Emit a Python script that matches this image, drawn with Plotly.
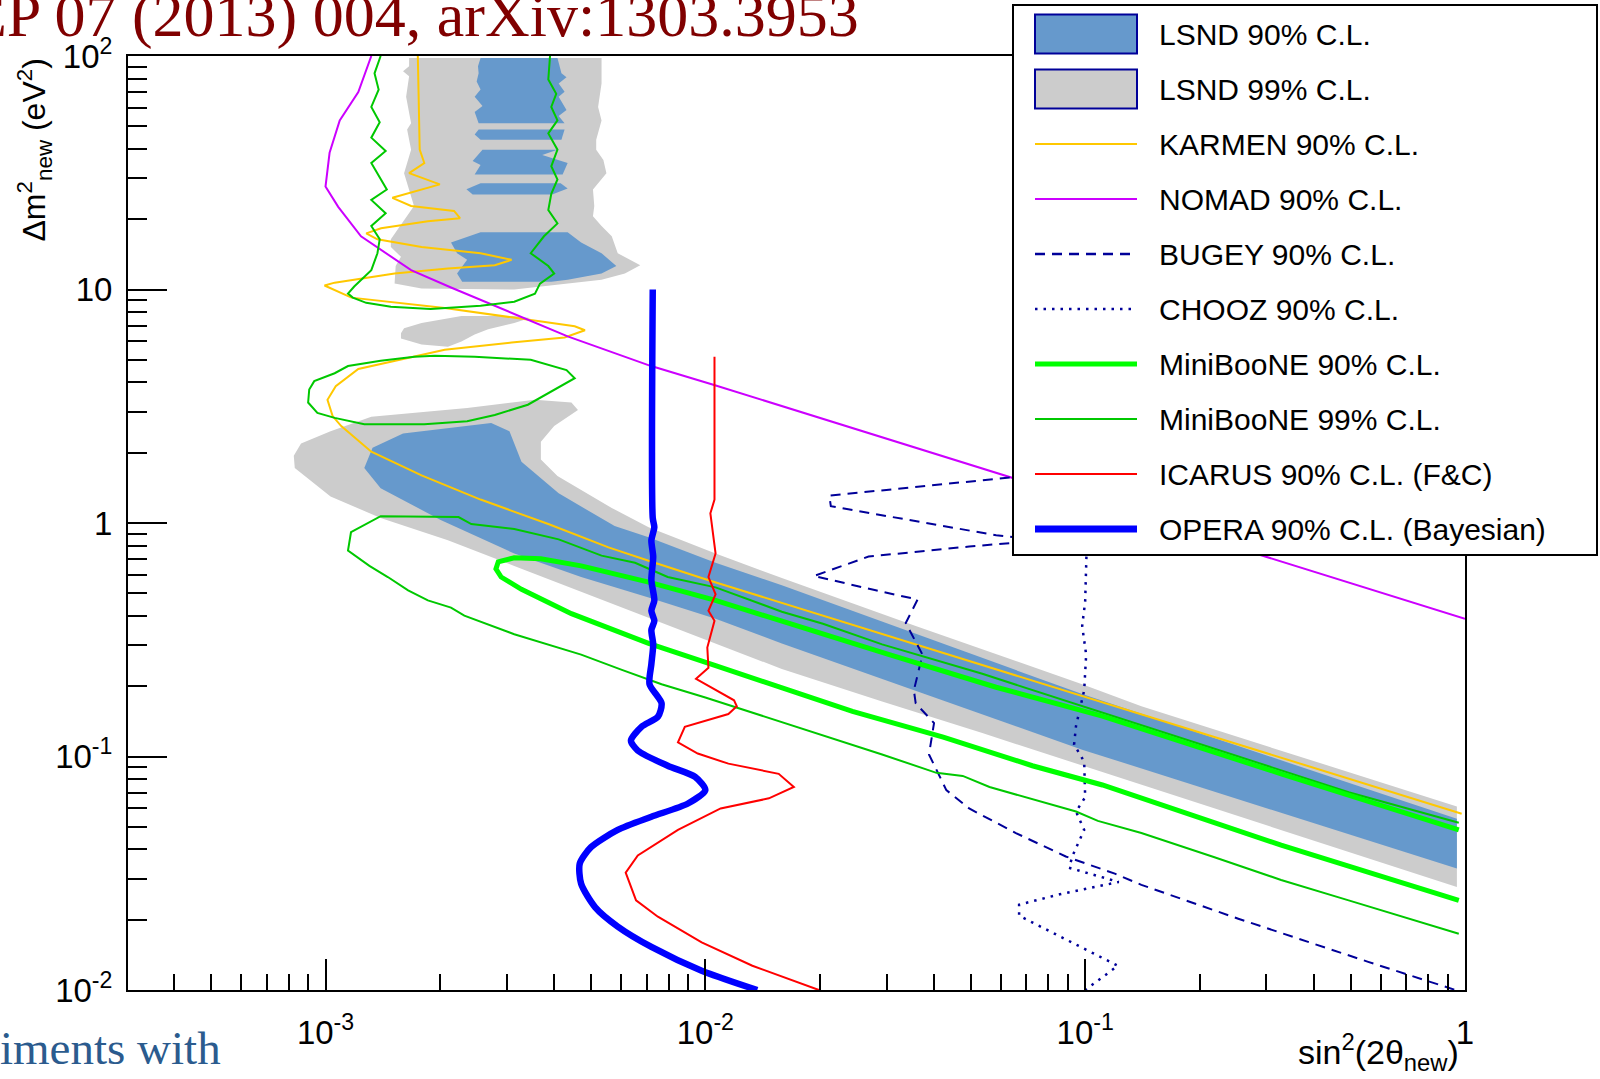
import plotly.graph_objects as go

# ---------------------------------------------------------------
# Exclusion limits / allowed regions in the (sin^2 2θ_new, Δm^2_new) plane
# ---------------------------------------------------------------

# LSND 99% C.L. allowed region (three separate islands)
lsnd99_top_x = [1.66e-3, 1.66e-3, 1.6e-3, 1.66e-3, 1.63e-3, 1.68e-3, 1.64e-3, 1.68e-3, 1.61e-3, 1.71e-3,
                1.61e-3, 1.486e-3, 1.486e-3, 1.58e-3, 1.53e-3, 1.52e-3, 1.79e-3, 3.14e-3, 5.33e-3, 6.14e-3,
                6.74e-3, 5.88e-3, 5.67e-3, 5.33e-3, 5.06e-3, 5.1e-3, 5.06e-3, 5.49e-3, 5.39e-3, 5.16e-3,
                5.16e-3, 5.33e-3, 5.22e-3, 5.33e-3, 5.33e-3]
lsnd99_top_y = [98, 90.4, 86, 81.8, 66.9, 51.5, 48.5, 39.7, 31.5, 22.8,
                19.8, 16.4, 15.2, 13.8, 12.6, 10.6, 10.1, 10.0, 11.0, 11.7,
                12.7, 14.3, 16.9, 18.7, 20.6, 22.8, 26.8, 31.5, 35.9, 39.7,
                43.8, 53, 60.5, 76.2, 98]

lsnd99_mid_x = [1.58e-3, 1.58e-3, 1.79e-3, 2.10e-3, 2.28e-3, 2.47e-3, 2.68e-3, 3.14e-3, 3.45e-3,
                3.14e-3, 2.28e-3, 1.79e-3, 1.61e-3]
lsnd99_mid_y = [6.49, 6.17, 5.81, 5.69, 5.99, 6.42, 6.76, 7.18, 7.55, 7.70, 7.70, 7.18, 6.82]

lsnd99_low_x = [8.25e-4, 8.62e-4, 1.031e-3, 1.32e-3, 2.36e-3, 3.56e-3, 4.44e-3, 4.62e-3, 4.0e-3, 3.69e-3,
                3.69e-3, 4.08e-3, 5.67e-3, 7.09e-3, 1.064e-2, 1.59e-2, 3.58e-2, 9.82e-2, 0.1406, 0.952,
                0.952, 0.1406, 5.36e-2, 2.92e-2, 1.59e-2, 3.14e-3, 2.10e-3, 1.397e-3, 1.031e-3, 8.3e-4]
lsnd99_low_y = [1.94, 2.19, 2.47, 2.85, 3.11, 3.37, 3.28, 3.05, 2.60, 2.23,
                1.87, 1.59, 1.16, 0.96, 0.74, 0.581, 0.362, 0.204, 0.164, 0.0611,
                0.0276, 0.0755, 0.126, 0.172, 0.237, 0.655, 0.843, 1.05, 1.30, 1.72]

# LSND 90% C.L. allowed region (several patches)
lsnd90_a_x = [2.56e-3, 4.08e-3, 4.18e-3, 4.31e-3, 4.11e-3, 4.26e-3, 4.11e-3, 4.31e-3, 4.11e-3, 4.26e-3,
              2.53e-3, 2.47e-3, 2.59e-3, 2.47e-3, 2.56e-3, 2.5e-3, 2.53e-3, 2.52e-3]
lsnd90_a_y = [98, 98, 84.3, 81, 76.2, 70.3, 66.9, 58.7, 55.3, 51.5,
              51.5, 57.5, 61.1, 66.9, 71.8, 77.8, 84.3, 90.4]
lsnd90_b_x = [2.53e-3, 4.26e-3, 4.18e-3, 2.56e-3, 2.47e-3]
lsnd90_b_y = [48.5, 48.5, 43.8, 43.8, 46.1]
lsnd90_c_x = [2.59e-3, 4.08e-3, 3.72e-3, 4.34e-3, 4.21e-3, 2.47e-3, 2.56e-3, 2.44e-3]
lsnd90_c_y = [39.7, 39.7, 37.7, 34.8, 31.1, 31.1, 34.1, 35.5]
lsnd90_d_x = [2.56e-3, 4.16e-3, 4.34e-3, 3.95e-3, 2.44e-3, 2.35e-3]
lsnd90_d_y = [28.5, 28.5, 27.1, 25.5, 25.5, 26.9]
lsnd90_e_x = [2.56e-3, 4.34e-3, 4.71e-3, 5.33e-3, 5.83e-3, 5.33e-3, 4.34e-3, 3.93e-3, 2.29e-3, 2.22e-3,
              2.36e-3, 2.22e-3, 2.14e-3]
lsnd90_e_y = [17.6, 17.6, 15.9, 14.3, 12.6, 11.7, 11.0, 10.8, 10.8, 11.7, 13.4, 14.3, 15.9]
lsnd90_low_x = [1.265e-3, 1.33e-3, 1.6e-3, 2.73e-3, 3.05e-3, 3.28e-3, 4.11e-3, 5.77e-3, 7.09e-3, 1.064e-2,
                1.59e-2, 9.82e-2, 0.952, 0.952, 9.82e-2, 1.59e-2, 1.064e-2, 7.09e-3, 4.71e-3, 3.14e-3,
                2.01e-3, 1.397e-3]
lsnd90_low_y = [1.72, 2.10, 2.42, 2.68, 2.47, 1.83, 1.34, 0.97, 0.869, 0.676,
                0.541, 0.185, 0.0541, 0.0331, 0.107, 0.305, 0.389, 0.48, 0.587, 0.74,
                1.03, 1.41]

# KARMEN 90% C.L.
karmen_x = [1.75e-3, 1.77e-3, 1.82e-3, 1.66e-3, 2.0e-3, 1.50e-3, 1.68e-3, 2.18e-3, 2.26e-3, 1.86e-3,
            1.40e-3, 1.28e-3, 1.37e-3, 1.79e-3, 2.56e-3, 3.09e-3, 2.79e-3, 2.10e-3, 1.52e-3, 1.057e-3,
            0.994e-3, 1.17e-3, 2.06e-3, 3.14e-3, 4.53e-3, 4.82e-3, 4.26e-3, 3.09e-3, 2.06e-3, 1.22e-3,
            1.064e-3, 1.012e-3, 1.044e-3, 1.10e-3, 1.32e-3, 1.79e-3, 2.56e-3, 3.86e-3, 5.56e-3, 7.09e-3,
            1.02e-2, 0.98]
karmen_y = [100, 39.7, 34.8, 31.5, 28.2, 24.7, 22.8, 21.7, 20.2, 19.6,
            18.3, 17.4, 16.4, 15.2, 14.3, 13.4, 12.7, 12.3, 11.7, 10.7,
            10.4, 9.23, 8.34, 7.55, 6.96, 6.69, 6.23, 5.93, 5.52, 4.57,
            3.85, 3.37, 2.87, 2.60, 2.02, 1.60, 1.26, 0.99, 0.786, 0.689,
            0.569, 0.0569]

# NOMAD 90% C.L.
nomad_x = [1.32e-3, 1.22e-3, 1.09e-3, 1.025e-3, 1.0e-3, 1.08e-3, 1.24e-3, 1.68e-3, 2.14e-3, 2.68e-3,
           4.34e-3, 7.2e-3, 1.06e-2, 1.0]
nomad_y = [100, 70, 53, 38.5, 27.6, 22.6, 16.9, 12.1, 10.2, 8.77,
           6.3, 4.7, 3.89, 0.389]

# BUGEY 90% C.L.
bugey_x = [7.77e-2, 2.12e-2, 2.14e-2, 3.24e-2, 5.83e-2, 7.77e-2, 4.95e-2, 2.69e-2, 1.93e-2, 2.81e-2,
           3.62e-2, 3.37e-2, 3.73e-2, 3.54e-2, 3.58e-2, 4.0e-2, 3.88e-2, 4.31e-2, 4.95e-2, 6.57e-2,
           8.89e-2, 0.1197, 0.1406, 0.253, 0.556, 1.0]
bugey_y = [1.62, 1.31, 1.18, 1.05, 0.886, 0.843, 0.793, 0.718, 0.593, 0.515,
           0.47, 0.373, 0.273, 0.192, 0.169, 0.139, 0.102, 0.0718, 0.0599, 0.047,
           0.0373, 0.0315, 0.0282, 0.0202, 0.0132, 0.0097]

# CHOOZ 90% C.L.
chooz_x = [0.1012, 0.1006, 0.1, 9.82e-2, 0.1006, 9.94e-2, 9.46e-2, 9.35e-2, 9.94e-2, 0.1,
           9.46e-2, 9.94e-2, 9.3e-2, 9.06e-2, 0.1226, 8.57e-2, 6.7e-2, 6.7e-2, 0.1219, 0.1]
chooz_y = [0.923, 0.703, 0.461, 0.362, 0.273, 0.192, 0.135, 0.1125, 0.0951, 0.0669,
           0.0581, 0.0485, 0.0381, 0.0334, 0.029, 0.0257, 0.0232, 0.0208, 0.0127, 0.01]

# MiniBooNE 90% C.L.
mb90_x = [0.963, 0.328, 0.111, 5.83e-2, 3.05e-2, 1.59e-2, 1.064e-2, 7.09e-3, 4.71e-3, 3.69e-3,
          3.14e-3, 2.85e-3, 2.81e-3, 2.9e-3, 3.28e-3, 4.44e-3, 7.09e-3, 1.064e-2, 1.59e-2, 2.44e-2,
          4.23e-2, 7.26e-2, 0.111, 0.328, 0.963]
mb90_y = [0.0485, 0.0843, 0.149, 0.198, 0.273, 0.381, 0.466, 0.558, 0.655, 0.703,
          0.71, 0.682, 0.636, 0.587, 0.52, 0.409, 0.305, 0.245, 0.198, 0.156,
          0.121, 0.0913, 0.0755, 0.0417, 0.0242]

# MiniBooNE 99% C.L. (three contour pieces)
mb99_top_x = [1.397e-3, 1.346e-3, 1.38e-3, 1.32e-3, 1.389e-3, 1.32e-3, 1.44e-3, 1.32e-3, 1.45e-3, 1.32e-3,
              1.44e-3, 1.32e-3, 1.389e-3, 1.37e-3, 1.32e-3, 1.19e-3, 1.146e-3, 1.18e-3, 1.28e-3, 1.486e-3,
              1.89e-3, 2.56e-3, 3.14e-3, 3.56e-3, 3.67e-3, 4.0e-3, 3.86e-3, 3.47e-3, 3.76e-3, 4.08e-3,
              3.86e-3, 3.93e-3, 4.08e-3, 3.93e-3, 4.08e-3, 3.86e-3, 4.08e-3, 3.93e-3, 4.05e-3, 3.86e-3,
              3.9e-3]
mb99_top_y = [100, 84.3, 71.8, 60.5, 52, 44.7, 39.2, 34.8, 26.8, 24.2,
              21.2, 18.7, 16.4, 14.3, 12.1, 10.3, 9.6, 9.23, 8.77, 8.43,
              8.26, 8.51, 8.86, 9.6, 10.6, 11.7, 12.6, 14.3, 16.9, 19.2,
              21.9, 25.7, 29.6, 33.7, 39.7, 46.6, 53, 60.5, 68.9, 79.3,
              100]
mb99_mid_x = [1.94e-3, 2.47e-3, 3.47e-3, 4.31e-3, 4.53e-3, 4.0e-3, 3.41e-3, 2.79e-3, 2.36e-3, 1.82e-3,
              1.265e-3, 1.057e-3, 0.952e-3, 0.90e-3, 0.906e-3, 0.934e-3, 1.057e-3, 1.146e-3, 1.397e-3,
              1.714e-3, 1.94e-3]
mb99_mid_y = [5.2, 5.15, 5.0, 4.52, 4.17, 3.73, 3.21, 2.90, 2.73, 2.65,
              2.65, 2.82, 2.96, 3.28, 3.73, 4.05, 4.38, 4.70, 4.95, 5.15,
              5.2]
mb99_low_x = [0.963, 0.494, 0.219, 9.82e-2, 5.36e-2, 2.92e-2, 2.04e-2, 1.59e-2, 1.064e-2, 7.96e-3,
              6.53e-3, 5.33e-3, 4.11e-3, 3.14e-3, 2.42e-3, 2.24e-3, 1.397e-3, 1.167e-3, 1.146e-3, 1.305e-3,
              1.459e-3, 1.65e-3, 1.86e-3, 2.14e-3, 2.32e-3, 3.14e-3, 3.93e-3, 4.71e-3, 6.03e-3, 7.67e-3,
              1.0e-2, 1.44e-2, 1.99e-2, 2.92e-2, 4.06e-2, 4.76e-2, 5.6e-2, 6.85e-2, 8.08e-2, 9.46e-2,
              0.108, 0.1406, 0.219, 0.328, 0.494, 0.737, 0.963]
mb99_low_y = [0.052, 0.0703, 0.108, 0.164, 0.226, 0.302, 0.37, 0.417, 0.53, 0.587,
              0.676, 0.725, 0.851, 0.942, 0.99, 1.06, 1.07, 0.913, 0.762, 0.655,
              0.587, 0.515, 0.466, 0.434, 0.401, 0.334, 0.299, 0.273, 0.235, 0.204,
              0.179, 0.148, 0.125, 0.102, 0.0851, 0.0826, 0.074, 0.0676, 0.0623, 0.0581,
              0.053, 0.047, 0.037, 0.0296, 0.0242, 0.0198, 0.0174]

# ICARUS 90% C.L. (F&C)
icarus_x = [1.057e-2, 1.057e-2, 1.031e-2, 1.064e-2, 1.019e-2, 1.064e-2, 1.019e-2, 1.057e-2, 1.012e-2, 1.019e-2,
            9.45e-3, 1.19e-2, 1.21e-2, 1.15e-2, 8.83e-3, 8.47e-3, 9.55e-3, 1.15e-2, 1.56e-2, 1.71e-2,
            1.47e-2, 1.097e-2, 8.47e-3, 6.64e-3, 6.17e-3, 6.57e-3, 7.5e-3, 9.78e-3, 1.33e-2, 1.99e-2]
icarus_y = [5.15, 1.26, 1.10, 0.74, 0.587, 0.495, 0.421, 0.381, 0.293, 0.240,
            0.215, 0.174, 0.164, 0.152, 0.134, 0.115, 0.103, 0.0932, 0.0843, 0.074,
            0.0662, 0.0599, 0.0485, 0.0377, 0.0318, 0.0242, 0.0206, 0.016, 0.0127, 0.01]

# OPERA 90% C.L. (Bayesian)
opera_x = [7.27e-3, 7.27e-3, 7.34e-3, 7.21e-3, 7.29e-3, 7.21e-3, 7.34e-3, 7.21e-3, 7.34e-3, 7.21e-3,
           7.29e-3, 7.21e-3, 7.13e-3, 7.67e-3, 7.5e-3, 6.79e-3, 6.37e-3, 6.64e-3, 7.96e-3, 9.4e-3,
           1.0e-2, 9.0e-3, 7.21e-3, 5.88e-3, 5.0e-3, 4.67e-3, 4.71e-3, 5.13e-3, 5.88e-3, 7.21e-3,
           9.78e-3, 1.37e-2]
opera_y = [10, 1.05, 0.96, 0.843, 0.718, 0.569, 0.466, 0.421, 0.381, 0.348,
           0.302, 0.249, 0.204, 0.169, 0.148, 0.134, 0.117, 0.106, 0.0913, 0.0818,
           0.0718, 0.0629, 0.0552, 0.0485, 0.0409, 0.0348, 0.0285, 0.0226, 0.0187, 0.0153,
           0.0121, 0.01]

# Axis ticks
x_tickvals = [1e-3, 1e-2, 1e-1, 1]
x_ticktext = ["10<sup>-3</sup>", "10<sup>-2</sup>", "10<sup>-1</sup>", "1"]
y_tickvals = [1e-2, 1e-1, 1, 10, 100]
y_ticktext = ["10<sup>-2</sup>", "10<sup>-1</sup>", "1", "10", "10<sup>2</sup>"]

# Legend entries
legend_labels = ["LSND 90% C.L.", "LSND 99% C.L.", "KARMEN 90% C.L.", "NOMAD 90% C.L.",
                 "BUGEY 90% C.L.", "CHOOZ 90% C.L.", "MiniBooNE 90% C.L.", "MiniBooNE 99% C.L.",
                 "ICARUS 90% C.L. (F&C)", "OPERA 90% C.L. (Bayesian)"]

# ---------------------------------------------------------------
C_LSND90 = "#6699cc"
C_LSND99 = "#cccccc"
C_KARMEN = "#ffc800"
C_NOMAD = "#cc00ff"
C_REACT = "#000099"
C_MB90 = "#00ff00"
C_MB99 = "#00c800"
C_ICARUS = "#ff0000"
C_OPERA = "#0000ff"
SANS = "Liberation Sans, Arial, Helvetica, sans-serif"
SERIF = "Liberation Serif, Times New Roman, serif"

fig = go.Figure()


def add_region(x, y, color):
    fig.add_trace(go.Scatter(x=x, y=y, mode="lines", fill="toself", fillcolor=color,
                             line=dict(width=0, color=color), hoverinfo="skip", showlegend=False))


def add_curve(x, y, color, width, dash="solid", shape="linear"):
    fig.add_trace(go.Scatter(x=x, y=y, mode="lines",
                             line=dict(color=color, width=width, dash=dash, shape=shape, smoothing=0.7),
                             hoverinfo="skip", showlegend=False))


for rx, ry in [(lsnd99_top_x, lsnd99_top_y), (lsnd99_mid_x, lsnd99_mid_y), (lsnd99_low_x, lsnd99_low_y)]:
    add_region(rx, ry, C_LSND99)
for rx, ry in [(lsnd90_a_x, lsnd90_a_y), (lsnd90_b_x, lsnd90_b_y), (lsnd90_c_x, lsnd90_c_y),
               (lsnd90_d_x, lsnd90_d_y), (lsnd90_e_x, lsnd90_e_y), (lsnd90_low_x, lsnd90_low_y)]:
    add_region(rx, ry, C_LSND90)

add_curve(karmen_x, karmen_y, C_KARMEN, 2)
add_curve(nomad_x, nomad_y, C_NOMAD, 2)
add_curve(bugey_x, bugey_y, C_REACT, 2, "10px,7px")
add_curve(chooz_x, chooz_y, C_REACT, 2.5, "2.5px,6px")
add_curve(mb99_top_x, mb99_top_y, C_MB99, 2)
add_curve(mb99_mid_x, mb99_mid_y, C_MB99, 2)
add_curve(mb99_low_x, mb99_low_y, C_MB99, 2)
add_curve(mb90_x, mb90_y, C_MB90, 5)
add_curve(icarus_x, icarus_y, C_ICARUS, 2)
add_curve(opera_x, opera_y, C_OPERA, 6.5, shape="spline")

# Page geometry of the plotting frame (px) for decorations
L, T, W, H = 128, 56, 1337, 934


def px(x):
    return (x - L) / W


def py(y):
    return 1 - (y - T) / H


shapes = []
annotations = []

# Legend box
shapes.append(dict(type="rect", xref="paper", yref="paper", x0=px(1013), x1=px(1597), y0=py(555), y1=py(5),
                   line=dict(color="black", width=2), fillcolor="white", layer="above"))
row_y = [34 + 55 * i for i in range(10)]
sx0, sx1 = 1035, 1137
legend_styles = [
    ("box", C_LSND90, None, None),
    ("box", C_LSND99, None, None),
    ("line", C_KARMEN, 2, "solid"),
    ("line", C_NOMAD, 2, "solid"),
    ("line", C_REACT, 2.5, "10px,7px"),
    ("line", C_REACT, 2.5, "2.5px,6px"),
    ("line", C_MB90, 5, "solid"),
    ("line", C_MB99, 2, "solid"),
    ("line", C_ICARUS, 2, "solid"),
    ("line", C_OPERA, 7, "solid"),
]
for yc, label, (kind, col, wid, dash) in zip(row_y, legend_labels, legend_styles):
    if kind == "box":
        shapes.append(dict(type="rect", xref="paper", yref="paper", x0=px(sx0), x1=px(sx1),
                           y0=py(yc + 19.5), y1=py(yc - 19.5), fillcolor=col,
                           line=dict(color=C_REACT, width=2), layer="above"))
    else:
        shapes.append(dict(type="line", xref="paper", yref="paper", x0=px(sx0), x1=px(sx1),
                           y0=py(yc), y1=py(yc), line=dict(color=col, width=wid, dash=dash), layer="above"))
    annotations.append(dict(xref="paper", yref="paper", x=px(1157), y=py(yc), xanchor="left", yanchor="middle",
                            text=label, showarrow=False, font=dict(family=SANS, size=30, color="black")))

# Axis titles
annotations.append(dict(xref="paper", yref="paper", x=px(1461), y=py(1052), xanchor="right", yanchor="middle",
                        text="sin<sup>2</sup>(2θ<sub>new</sub>)", showarrow=False,
                        font=dict(family=SANS, size=34, color="black")))
annotations.append(dict(xref="paper", yref="paper", x=px(34), y=py(57), xanchor="center", yanchor="top",
                        textangle=-90, text="Δm<sup>2</sup><sub>new</sub> (eV<sup>2</sup>)", showarrow=False,
                        font=dict(family=SANS, size=32, color="black")))

# Reference line at the top and caption fragment at the bottom
annotations.append(dict(xref="paper", yref="paper", x=px(861), y=py(16), xanchor="right", yanchor="middle",
                        text="JHEP 07 (2013) 004, arXiv:1303.3953", showarrow=False,
                        font=dict(family=SERIF, size=62, color="#800000")))
annotations.append(dict(xref="paper", yref="paper", x=px(-2), y=py(1048), xanchor="left", yanchor="middle",
                        text="iments with", showarrow=False,
                        font=dict(family=SERIF, size=47, color="#2b5b8e")))

axis_common = dict(type="log", showgrid=False, zeroline=False, showline=True, linecolor="black", linewidth=2,
                   mirror=True, ticks="inside", tickwidth=2, tickcolor="black", tickmode="array",
                   tickfont=dict(family=SANS, size=33, color="black"))

fig.update_layout(
    width=1600, height=1079,
    margin=dict(l=L, r=1600 - L - W, t=T, b=1079 - T - H),
    paper_bgcolor="white", plot_bgcolor="white",
    xaxis=dict(axis_common, range=[-3.52, 0], tickvals=x_tickvals, ticktext=x_ticktext, ticklen=31,
               ticklabelstandoff=12,
               minor=dict(ticks="inside", ticklen=16, tickwidth=2, tickcolor="black", dtick="D1", showgrid=False)),
    yaxis=dict(axis_common, range=[-2, 2], tickvals=y_tickvals, ticktext=y_ticktext, ticklen=39,
               ticklabelstandoff=7,
               minor=dict(ticks="inside", ticklen=19, tickwidth=2, tickcolor="black", dtick="D1", showgrid=False)),
    shapes=shapes,
    annotations=annotations,
    showlegend=False,
)

fig.write_html("out.html")
